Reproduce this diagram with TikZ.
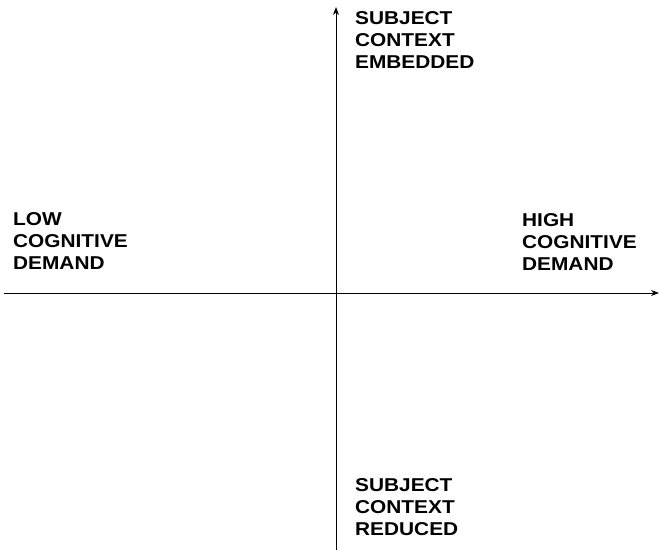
\documentclass[tikz,border=0pt]{standalone}
\usepackage{fontspec}
\setmainfont{Liberation Sans}[FakeStretch=1.12]
\usetikzlibrary{arrows.meta}
\begin{document}
\begin{tikzpicture}[x=1pt,y=-1pt,
    axis/.style={line width=1pt,-{Stealth[length=8pt,width=6pt]}},
    every node/.style={inner sep=0pt,anchor=north west,align=left,
      font=\fontsize{18.6}{22}\selectfont\bfseries}]
  \useasboundingbox (0,0) rectangle (659,550);
  % axes
  \coordinate (west) at (4,293);
  \coordinate (east) at (659,293);
  \coordinate (south) at (336,550);
  \coordinate (north) at (336,7);
  \draw[axis] (west) -- (east);
  \draw[axis] (south) -- (north);
  % labels
  \node (embedded) at (355,11) {SUBJECT\\CONTEXT\\EMBEDDED};
  \node (low) at (13,212) {LOW\\COGNITIVE\\DEMAND};
  \node (high) at (522,213) {HIGH\\COGNITIVE\\DEMAND};
  \node (reduced) at (355,478) {SUBJECT\\CONTEXT\\REDUCED};
\end{tikzpicture}
\end{document}
